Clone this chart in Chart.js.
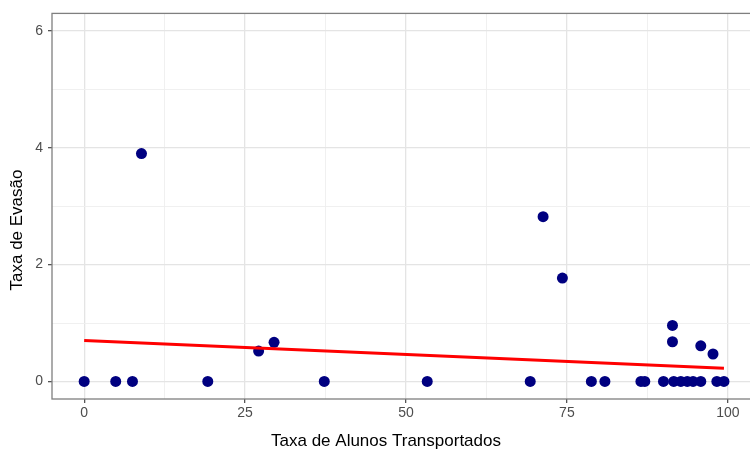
<!DOCTYPE html>
<html>
<head>
<meta charset="utf-8">
<script src="https://cdn.jsdelivr.net/npm/chart.js@4.4.1/dist/chart.umd.min.js"></script>
<style>
  html, body { margin: 0; padding: 0; background: #fff; }
  #wrap { width: 750px; height: 449px; overflow: hidden; position: relative; }
  canvas { display: block; }
</style>
</head>
<body>
<div id="wrap"><canvas id="chart" width="770" height="449" style="width:770px;height:449px"></canvas></div>
<script>
// values
const transportados = [0, 4.9, 7.5, 8.9, 19.2, 27.1, 29.5, 37.3, 53.3, 69.3, 71.3, 74.3, 78.8, 80.9,
  86.5, 87.1, 90.0, 91.4, 91.4, 91.6, 92.7, 93.7, 94.6, 95.8, 95.8, 97.7, 98.3, 99.4];
const evasao = [0, 0, 0, 3.90, 0, 0.52, 0.67, 0, 0, 0, 2.82, 1.77, 0, 0,
  0, 0, 0, 0.96, 0.68, 0, 0, 0, 0, 0, 0.61, 0.47, 0, 0];

// fitted line (lm) end points
const ajusteX = [0, 99.4];
const ajusteY = [0.70, 0.225];

const xTicks = [0, 25, 50, 75, 100];
const yTicks = [0, 2, 4, 6];
const xMinor = [12.5, 37.5, 62.5, 87.5];
const yMinor = [1, 3, 5];

const FONT = "'Liberation Sans', Arial, sans-serif";

const pontos = transportados.map((x, i) => ({ x: x, y: evasao[i] }));
const linha = ajusteX.map((x, i) => ({ x: x, y: ajusteY[i] }));

function gridOpts(major) {
  return {
    color: ctx => major.includes(ctx.tick && ctx.tick.value) ? '#e4e4e4' : '#eeeeee',
    lineWidth: ctx => major.includes(ctx.tick && ctx.tick.value) ? 1.3 : 0.9,
    tickColor: ctx => major.includes(ctx.tick && ctx.tick.value) ? '#555' : 'rgba(0,0,0,0)',
    tickLength: 4,
    drawTicks: true
  };
}

// panel border + axis titles
const moldura = {
  id: 'moldura',
  afterDraw(chart) {
    const { ctx, chartArea: a } = chart;
    ctx.save();
    ctx.strokeStyle = '#7f7f7f';
    ctx.lineWidth = 1.3;
    ctx.strokeRect(a.left, a.top, a.right - a.left, a.bottom - a.top);
    ctx.fillStyle = '#000';
    ctx.font = '17px ' + FONT;
    ctx.textAlign = 'center';
    ctx.textBaseline = 'middle';
    ctx.fillText('Taxa de Alunos Transportados', 386, 441);
    ctx.translate(17, 230);
    ctx.rotate(-Math.PI / 2);
    ctx.fillText('Taxa de Evasão', 0, 0);
    ctx.restore();
  }
};

new Chart(document.getElementById('chart'), {
  type: 'scatter',
  data: {
    datasets: [
      {
        type: 'line',
        data: linha,
        borderColor: '#ff0000',
        borderWidth: 3,
        pointRadius: 0,
        fill: false,
        order: 0
      },
      {
        data: pontos,
        backgroundColor: '#000080',
        borderWidth: 0,
        pointRadius: 5.5,
        pointHoverRadius: 5.5,
        order: 1
      }
    ]
  },
  options: {
    responsive: false,
    animation: false,
    events: [],
    layout: { padding: { top: 11, right: 10, left: 0, bottom: 0 } },
    plugins: { legend: { display: false }, tooltip: { enabled: false } },
    scales: {
      x: {
        type: 'linear',
        min: -5,
        max: 105,
        afterBuildTicks: s => { s.ticks = xTicks.concat(xMinor).sort((a, b) => a - b).map(v => ({ value: v })); },
        afterFit: s => { s.height = 50; },
        border: { display: false },
        grid: gridOpts(xTicks),
        ticks: {
          autoSkip: false,
          maxRotation: 0,
          padding: 2,
          color: '#4d4d4d',
          font: { family: FONT, size: 14 },
          callback: v => xTicks.includes(v) ? String(v) : ''
        }
      },
      y: {
        type: 'linear',
        min: -0.3,
        max: 6.3,
        afterBuildTicks: s => { s.ticks = yTicks.concat(yMinor).sort((a, b) => a - b).map(v => ({ value: v })); },
        afterFit: s => { s.width = 52; },
        border: { display: false },
        grid: gridOpts(yTicks),
        ticks: {
          autoSkip: false,
          padding: 5,
          color: '#4d4d4d',
          font: { family: FONT, size: 14 },
          callback: v => yTicks.includes(v) ? String(v) : ''
        }
      }
    }
  },
  plugins: [moldura]
});
</script>
</body>
</html>
